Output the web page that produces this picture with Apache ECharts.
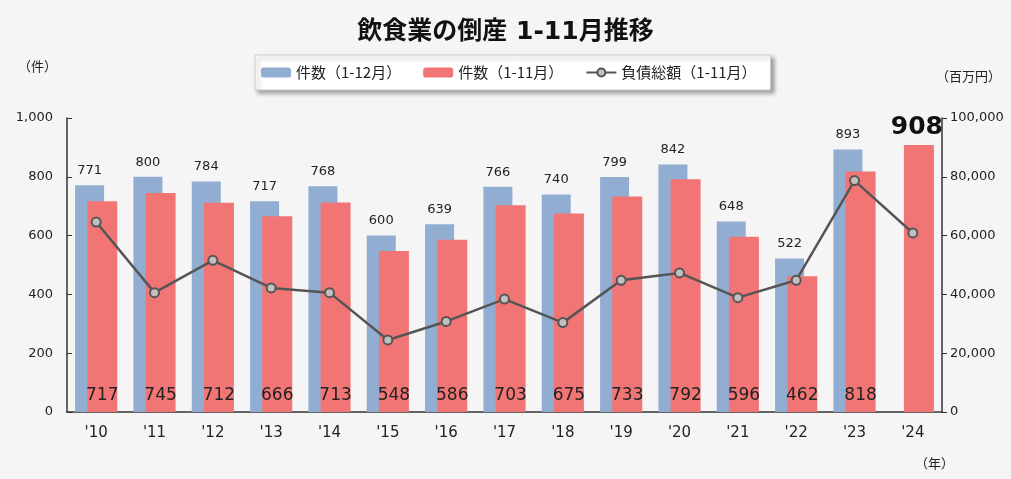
<!DOCTYPE html>
<html><head><meta charset="utf-8">
<script src="https://cdn.jsdelivr.net/npm/echarts@6/dist/echarts.min.js"></script>
<style>html,body{margin:0;padding:0;background:#f5f5f5}#c{width:1011px;height:479px}</style>
</head><body><div id="c"></div>
<script>
const years = ["'10","'11","'12","'13","'14","'15","'16","'17","'18","'19","'20","'21","'22","'23","'24"];
const count12 = [771,800,784,717,768,600,639,766,740,799,842,648,522,893,null];
const count11 = [717,745,712,666,713,548,586,703,675,733,792,596,462,818,908];
const debt11 = [64600,40600,51600,42200,40600,24500,30800,38400,30400,44800,47300,38900,44800,78700,60900];

const jp = '"Noto Sans CJK JP", sans-serif';
const num = '"DejaVu Sans", sans-serif';
const comma = v => String(v).replace(/\B(?=(\d{3})+(?!\d))/g, ',');
const last = count11.length - 1;

const chart = echarts.init(document.getElementById('c'), null, {renderer:'canvas'});
chart.setOption({
  backgroundColor: '#f5f5f5',
  animation: false,
  title: {
    text: '飲食業の倒産 1-11月推移', left: 'center', top: 15,
    textStyle: {fontFamily: '"DejaVu Sans", "Noto Sans CJK JP", sans-serif', fontSize: 25, fontWeight: 'bold', color: '#111'}
  },
  legend: {
    left: 255, top: 55,
    padding: [10, 14, 10, 6], itemGap: 22, itemWidth: 30, itemHeight: 10,
    backgroundColor: '#ffffff', borderColor: '#cccccc', borderWidth: 1,
    shadowColor: 'rgba(0,0,0,0.35)', shadowBlur: 4, shadowOffsetX: 3, shadowOffsetY: 3,
    textStyle: {fontFamily: jp, fontSize: 15, color: '#222'},
    data: ['件数（1-12月）', '件数（1-11月）', '負債総額（1-11月）']
  },
  grid: {left: 67, right: 69, top: 118, bottom: 67},
  xAxis: {
    type: 'category', data: years, boundaryGap: true,
    axisLine: {lineStyle: {color: '#333', width: 1.5}},
    axisTick: {inside: true, length: 5, lineStyle: {color: '#333'}},
    axisLabel: {fontFamily: num, fontSize: 15, color: '#222', margin: 14}
  },
  yAxis: [{
    type: 'value', min: 0, max: 1000, interval: 200,
    axisLine: {show: true, lineStyle: {color: '#333', width: 1.5}},
    axisTick: {show: true, inside: true, length: 5, lineStyle: {color: '#333'}},
    splitLine: {show: false},
    axisLabel: {fontFamily: num, fontSize: 13, color: '#222', margin: 14, formatter: comma}
  }, {
    type: 'value', min: 0, max: 100000, interval: 20000,
    axisLine: {show: true, lineStyle: {color: '#333', width: 1.5}},
    axisTick: {show: true, inside: false, length: 5, lineStyle: {color: '#333'}},
    splitLine: {show: false},
    axisLabel: {fontFamily: num, fontSize: 13, color: '#222', margin: 8, formatter: comma}
  }],
  graphic: [
    {type: 'text', left: 18, top: 60, style: {text: '（件）', font: '13px "Noto Sans CJK JP"', fill: '#222'}},
    {type: 'text', left: 936, top: 70, style: {text: '（百万円）', font: '13px "Noto Sans CJK JP"', fill: '#222'}},
    {type: 'text', left: 915, top: 457, style: {text: '（年）', font: '13px "Noto Sans CJK JP"', fill: '#222'}}
  ],
  series: [{
    name: '件数（1-12月）', type: 'bar', data: count12,
    barWidth: 29, barGap: '-58%', barCategoryGap: '28%',
    itemStyle: {color: '#92add2'},
    label: {show: true, position: 'top', distance: 8, fontFamily: num, fontSize: 13, color: '#222'}
  }, {
    name: '件数（1-11月）', type: 'bar', barWidth: 30,
    itemStyle: {color: '#f27575'},
    data: count11.map((v, i) => i === last ? {
      value: v,
      label: {show: true, position: 'top', distance: 5, offset: [-2, 0], fontFamily: num, fontSize: 25, fontWeight: 'bold', color: '#111'}
    } : v),
    label: {show: true, position: 'insideBottom', distance: 8, fontFamily: num, fontSize: 17, color: '#222'}
  }, {
    name: '負債総額（1-11月）', type: 'line', yAxisIndex: 1, data: debt11,
    symbol: 'circle', symbolSize: 9, z: 5,
    lineStyle: {color: '#555', width: 2.5},
    itemStyle: {color: '#c0c0c0', borderColor: '#555', borderWidth: 2}
  }]
});
</script></body></html>
